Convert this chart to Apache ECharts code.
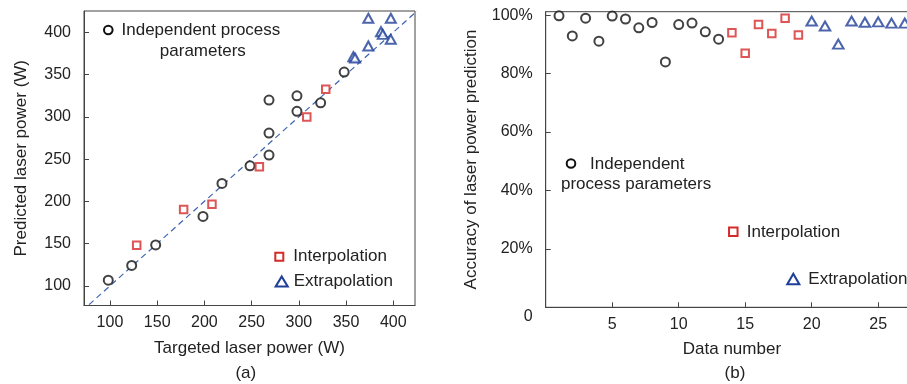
<!DOCTYPE html>
<html><head><meta charset="utf-8">
<script src="https://cdn.jsdelivr.net/npm/echarts@6/dist/echarts.min.js"></script>
<style>html,body{margin:0;padding:0;background:#fff}#c{width:907px;height:384px}</style>
</head><body><div id="c"></div>
<script>
// (a) Predicted vs targeted laser power (W)
const indepTarget = [98.2, 123, 148.4, 198.5, 218.6, 248.3, 268.4, 268.4, 268.4, 298, 298, 323.1, 348];
const indepPred   = [106.7, 124.2, 148.5, 182.2, 221.2, 242.1, 254.8, 280.8, 319.8, 306.5, 324.9, 316.6, 353];
const interpTarget = [128.3, 178, 208, 258.2, 308.4, 328.5];
const interpPred   = [148.2, 190.4, 196.7, 240.9, 299.7, 332.5];
const extrapTarget = [357.7, 359.5, 373.6, 373.6, 387, 388.9, 397.4, 397.4];
const extrapPred   = [371.1, 369.6, 383.8, 416.6, 400.7, 397.6, 391.7, 416.6];
const identityLine = [70, 430];
// (b) Accuracy (%) vs data number
const indepNo  = [1,2,3,4,5,6,7,8,9,10,11,12,13];
const indepAcc = [99.8, 92.9, 99.0, 91.1, 99.7, 98.7, 95.7, 97.5, 84.0, 96.8, 97.3, 94.3, 91.8];
const interpNo  = [14,15,16,17,18,19];
const interpAcc = [94.0, 87.0, 96.8, 93.7, 99.0, 93.2];
const extrapNo  = [20,21,22,23,24,25,26,27];
const extrapAcc = [98.0, 96.3, 90.1, 98.0, 97.6, 97.7, 97.3, 97.3];

const FONT = '"Liberation Sans", Arial, sans-serif';
const TXT = '#222';
const AX = '#444';
const C_BLACK = '#111', C_RED = '#d42a2a', C_BLUE = '#1f3f99', C_DASH = '#3d64b0';

const zip = (a, b) => a.map((v, i) => [v, b[i]]);

function axisCommon() {
  return {
    type: 'value',
    axisLine: { show: true, lineStyle: { color: AX, width: 1 } },
    axisTick: { show: true, inside: true, length: 5, lineStyle: { color: AX } },
    splitLine: { show: false },
    nameLocation: 'middle',
    nameTextStyle: { fontSize: 17, color: TXT, fontFamily: FONT }
  };
}

const chart = echarts.init(document.getElementById('c'), null, { renderer: 'canvas' });

const legendTxt = (text, x, y, align) => ({
  type: 'text', style: { text, x, y, fill: TXT, font: '17px ' + FONT, align: align || 'left', verticalAlign: 'middle' }
});
const circ = (cx, cy, r, c) => ({ type: 'circle', shape: { cx, cy, r }, style: { fill: '#fff', stroke: c, lineWidth: 2 } });
const sq = (cx, cy, s, c) => ({ type: 'rect', shape: { x: cx - s / 2, y: cy - s / 2, width: s, height: s }, style: { fill: '#fff', stroke: c, lineWidth: 2 } });
const tri = (cx, cy, w, h, c) => ({ type: 'polygon', shape: { points: [[cx - w / 2, cy + h / 2], [cx + w / 2, cy + h / 2], [cx, cy - h / 2]] }, style: { fill: '#fff', stroke: c, lineWidth: 2.1 } });

const option = {
  backgroundColor: '#fff',
  animation: false,
  grid: [
    { left: 84, top: 11, width: 331, height: 294.5, show: true, borderColor: AX, borderWidth: 1, backgroundColor: 'transparent', outerBoundsMode: 'none', containLabel: false },
    { left: 545.7, top: 11.7, width: 372.4, height: 295.6, show: true, borderColor: AX, borderWidth: 1, backgroundColor: 'transparent', outerBoundsMode: 'none', containLabel: false }
  ],
  xAxis: [
    Object.assign(axisCommon(), {
      gridIndex: 0, min: 72.5, max: 423, splitNumber: 7,
      name: 'Targeted laser power (W)', nameGap: 34,
      axisLabel: { margin: 9, fontSize: 16, color: TXT, fontFamily: FONT, showMinLabel: false, showMaxLabel: false,
        formatter: v => (Math.abs(v % 50) < 1e-6 ? String(v) : '') }
    }),
    Object.assign(axisCommon(), {
      gridIndex: 1, min: 0, max: 28, splitNumber: 5,
      name: 'Data number', nameGap: 34,
      axisLabel: { margin: 9, fontSize: 16, color: TXT, fontFamily: FONT, showMinLabel: false, showMaxLabel: false,
        formatter: v => (v > 0 && Math.abs(v % 5) < 1e-6 ? String(v) : '') }
    })
  ],
  yAxis: [
    Object.assign(axisCommon(), {
      gridIndex: 0, min: 76.8, max: 425.2, splitNumber: 7,
      name: 'Predicted laser power (W)', nameGap: 54,
      axisLabel: { margin: 13, fontSize: 16, color: TXT, fontFamily: FONT, showMinLabel: false, showMaxLabel: false,
        formatter: v => (Math.abs(v % 50) < 1e-6 ? String(v) : '') }
    }),
    Object.assign(axisCommon(), {
      gridIndex: 1, min: 0, max: 101.2, splitNumber: 5,
      name: 'Accuracy of laser power prediction', nameGap: 66,
      axisLabel: { margin: 13, fontSize: 16, color: TXT, fontFamily: FONT, showMaxLabel: false,
        formatter: v => (v === 0 ? '{z|0}' : (Math.abs(v % 20) < 1e-6 ? v + '%' : '')),
        rich: { z: { fontSize: 16, color: TXT, fontFamily: FONT, padding: [19, 0, 0, 0] } } }
    })
  ],
  series: [
    { type: 'line', xAxisIndex: 0, yAxisIndex: 0, data: identityLine.map(v => [v, v]), symbol: 'none', clip: true,
      lineStyle: { color: C_DASH, width: 1.2, type: [6, 4] }, silent: true, z: 1 },
    { name: 'Independent process parameters', type: 'scatter', xAxisIndex: 0, yAxisIndex: 0, data: zip(indepTarget, indepPred),
      symbol: 'emptyCircle', symbolSize: 9, itemStyle: { color: C_BLACK, borderColor: C_BLACK, borderWidth: 2 } },
    { name: 'Interpolation', type: 'scatter', xAxisIndex: 0, yAxisIndex: 0, data: zip(interpTarget, interpPred),
      symbol: 'emptyRect', symbolSize: 7.5, itemStyle: { color: C_RED, borderColor: C_RED, borderWidth: 2 } },
    { name: 'Extrapolation', type: 'scatter', xAxisIndex: 0, yAxisIndex: 0, data: zip(extrapTarget, extrapPred),
      symbol: 'emptyTriangle', symbolSize: [10, 9], itemStyle: { color: C_BLUE, borderColor: C_BLUE, borderWidth: 2.1 } },
    { name: 'Independent process parameters', type: 'scatter', xAxisIndex: 1, yAxisIndex: 1, data: zip(indepNo, indepAcc),
      symbol: 'emptyCircle', symbolSize: 9, itemStyle: { color: C_BLACK, borderColor: C_BLACK, borderWidth: 2 } },
    { name: 'Interpolation', type: 'scatter', xAxisIndex: 1, yAxisIndex: 1, data: zip(interpNo, interpAcc),
      symbol: 'emptyRect', symbolSize: 7.5, itemStyle: { color: C_RED, borderColor: C_RED, borderWidth: 2 } },
    { name: 'Extrapolation', type: 'scatter', xAxisIndex: 1, yAxisIndex: 1, data: zip(extrapNo, extrapAcc),
      symbol: 'emptyTriangle', symbolSize: [10.5, 9], itemStyle: { color: C_BLUE, borderColor: C_BLUE, borderWidth: 2.1 } }
  ],
  graphic: [
    // legend (a)
    circ(108.3, 30, 4.3, C_BLACK), legendTxt('Independent process', 121.5, 30),
    legendTxt('parameters', 202.8, 51, 'center'),
    sq(279.3, 256.7, 8, C_RED), legendTxt('Interpolation', 293.3, 256.7),
    tri(281.7, 281.5, 12, 10, C_BLUE), legendTxt('Extrapolation', 293.7, 281.2),
    // legend (b)
    circ(571, 163.5, 4.3, C_BLACK), legendTxt('Independent', 590, 164.5),
    legendTxt('process parameters', 561, 184.7),
    sq(733.3, 231.7, 8.5, C_RED), legendTxt('Interpolation', 746.7, 232),
    tri(793.3, 279, 12, 10.5, C_BLUE), legendTxt('Extrapolation', 808.3, 279),
    // panel captions
    legendTxt('(a)', 245.8, 373, 'center'),
    legendTxt('(b)', 735, 373, 'center')
  ]
};
chart.setOption(option);
</script>
</body></html>
